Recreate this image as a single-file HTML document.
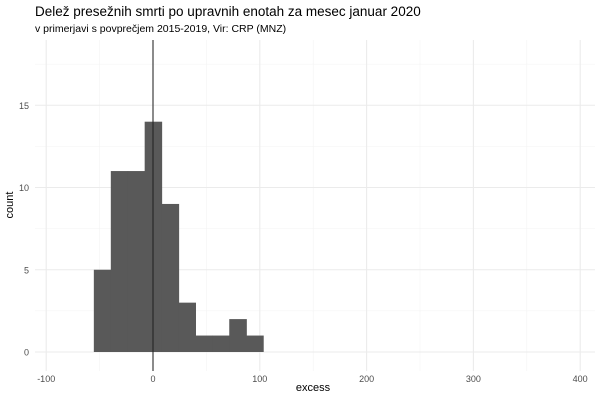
<!DOCTYPE html>
<html><head><meta charset="utf-8"><style>
body{margin:0;background:#fff;font-family:"Liberation Sans",sans-serif}
svg text{font-family:"Liberation Sans",sans-serif}
</style></head><body>
<svg id="c" width="600" height="400">
<text x="35" y="16" font-size="13.5" fill="#000">Delež presežnih smrti po upravnih enotah za mesec januar 2020</text>
<text x="35" y="32" font-size="10.5" fill="#000">v primerjavi s povprečjem 2015-2019, Vir: CRP (MNZ)</text>
<g id="grid"></g><g id="bars"></g><g id="axes"></g>
<text x="313" y="391" font-size="11" text-anchor="middle">excess</text>
<text transform="translate(13,205) rotate(-90)" font-size="11" text-anchor="middle">count</text>
</svg>
<script>
const binEdges=[-55.4,-39.5,-23.7,-7.8,8.0,23.9,39.7,55.6,71.4,87.3,103.1];
const counts=[5,11,11,14,9,3,1,1,2,1];
const xTicks=[-100,0,100,200,300,400];
const xMinor=[-50,50,150,250,350];
const yTicks=[0,5,10,15];
const yMinor=[2.5,7.5,12.5,17.5];
const vline=0;
const L=35,R=595,T=40,B=371;
const sx=v=>153+v*1.068;
const sy=v=>352-v*16.45;
const NS='http://www.w3.org/2000/svg';
function mk(p,t,a){const e=document.createElementNS(NS,t);for(const k in a)e.setAttribute(k,a[k]);p.appendChild(e);return e;}
const g=document.getElementById('grid'),b=document.getElementById('bars'),ax=document.getElementById('axes');
xMinor.forEach(v=>{const l=mk(g,'line',{x1:sx(v),x2:sx(v),y1:T,y2:B,stroke:'#f3f3f3','stroke-width':0.6});

});
yMinor.forEach(v=>{const l=mk(g,'line',{x1:L,x2:R,y1:sy(v),y2:sy(v),stroke:'#f3f3f3','stroke-width':0.6});

});
xTicks.forEach(v=>{const l=mk(g,'line',{x1:sx(v),x2:sx(v),y1:T,y2:B,stroke:'#ebebeb','stroke-width':1.1});


const t=mk(ax,'text',{x:sx(v),y:382,'font-size':9,fill:'#4d4d4d','text-anchor':'middle'});t.textContent=v;

});
yTicks.forEach(v=>{const l=mk(g,'line',{x1:L,x2:R,y1:sy(v),y2:sy(v),stroke:'#ebebeb','stroke-width':1.1});


const t=mk(ax,'text',{x:29,y:sy(v)+3.5,'font-size':9,fill:'#4d4d4d','text-anchor':'end'});t.textContent=v;

});
counts.forEach((c,i)=>{const x0=sx(binEdges[i]),x1=sx(binEdges[i+1]);
const r=mk(b,'rect',{x:x0,y:sy(c),width:x1-x0+0.6,height:sy(0)-sy(c),fill:'#595959'});

});
const vl=mk(b,'line',{x1:sx(vline),x2:sx(vline),y1:T,y2:B,stroke:'#222','stroke-width':1.2,opacity:0.85});


</script>
</body></html>
